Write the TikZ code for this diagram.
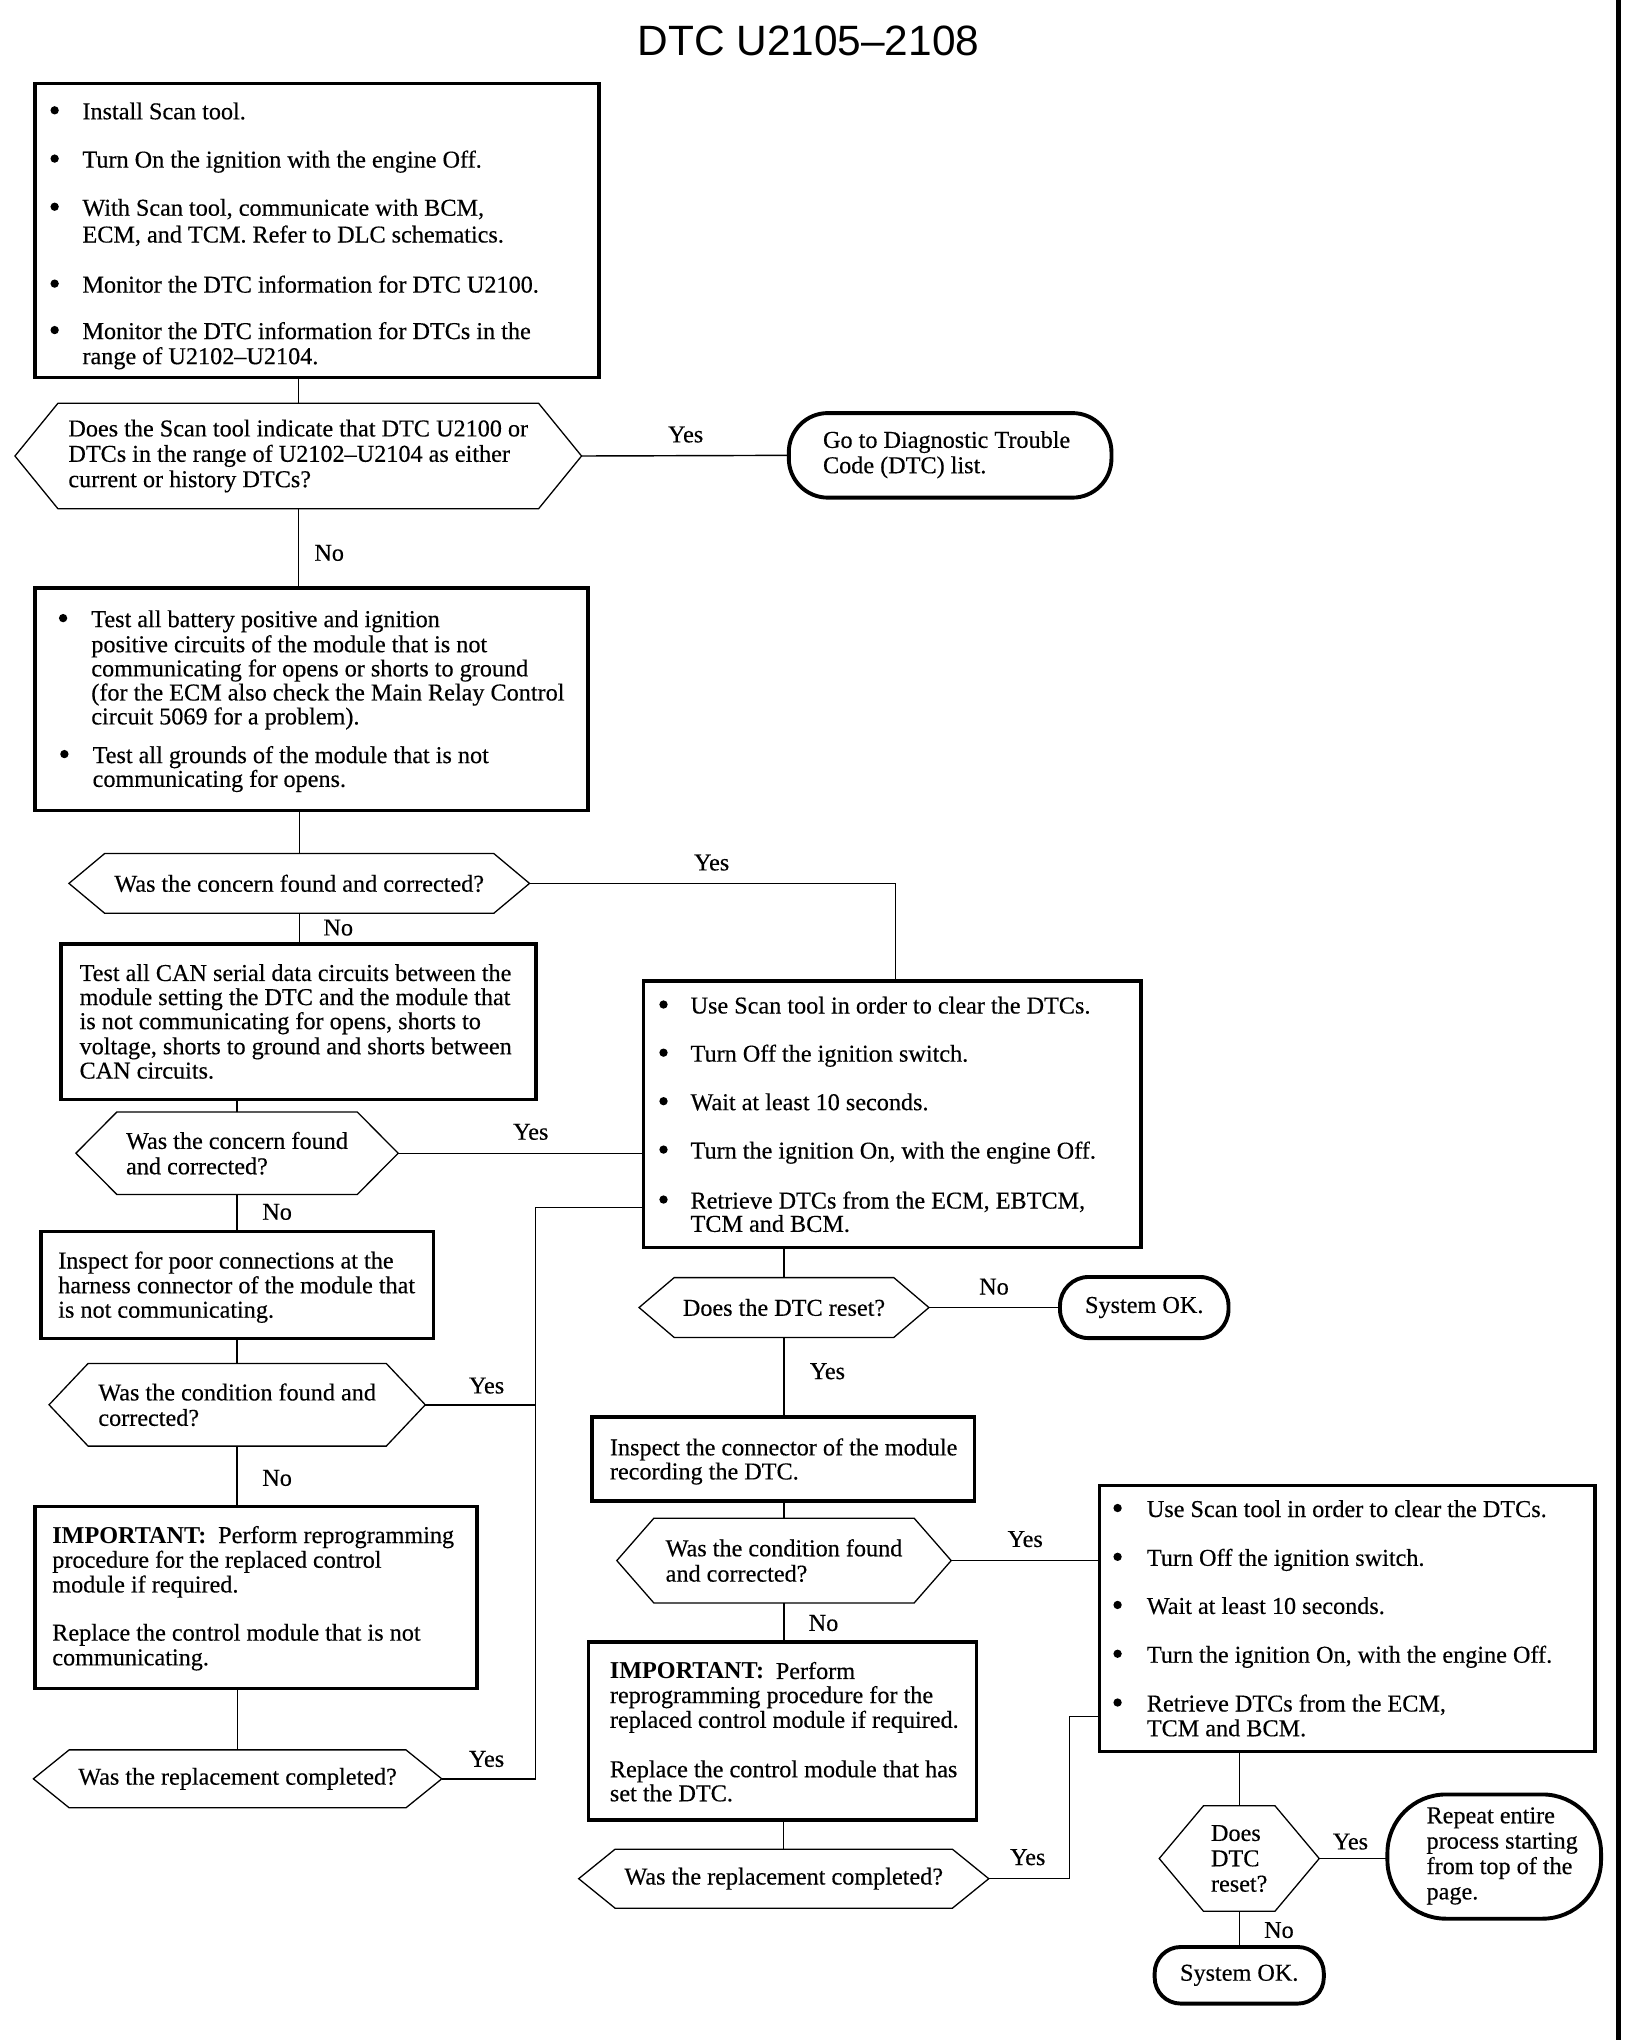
\documentclass[tikz,border=0pt]{standalone}
\usepackage{fontspec}
\setmainfont{Liberation Serif}[UprightFeatures={FakeBold=0.35}]
\newfontfamily\titlefont{Liberation Sans}
\newcommand{\bodyfont}{\fontsize{18.6}{19.5}\selectfont}
\newcommand{\tx}[4]{\node[txt] (#1) at (#2,#3) {#4};}
\newcommand{\bu}[3]{\node[bul] (#1) at (#2,#3-6.9) {};}
\newcommand{\hexat}[7]{%
  \node[hexst, minimum width=#4pt, minimum height=#5pt] (#1) at (#2,#3) {#7};
  \draw[hexline] ([xshift=#6pt]#1.north west) -- ([xshift=-#6pt]#1.north east) -- (#1.east)
     -- ([xshift=-#6pt]#1.south east) -- ([xshift=#6pt]#1.south west) -- (#1.west) -- cycle;}
\begin{document}
\begin{tikzpicture}[x=1pt,y=-1pt,
  txt/.style={anchor=base west, inner sep=0pt, font=\bodyfont},
  bul/.style={circle, fill, inner sep=0pt, minimum size=6.4pt},
  lab/.style={inner sep=0pt, font=\bodyfont},
  boxst/.style={draw, line width=2.6pt, inner sep=0pt, outer sep=0pt},
  hexst/.style={inner sep=0pt, outer sep=0pt, align=left, font=\bodyfont},
  hexline/.style={line width=1pt, line join=miter},
  term/.style={draw, line width=3pt, inner sep=0pt, outer sep=0pt, align=left, font=\bodyfont},
  conn/.style={line width=1.1pt}]
\fill[white] (0,0) rectangle (1254.4,1568);
\useasboundingbox (0,0) rectangle (1254.4,1568);

% title
\node[anchor=base, inner sep=0pt, font=\titlefont\fontsize{32.6}{36}\selectfont] (title) at (621.4,42.3) {DTC U2105\textendash 2108};

% page edge bar
\coordinate (edgetop) at (1244,0);
\coordinate (edgebot) at (1244,1568);
\draw[line width=3.8pt] (edgetop) -- (edgebot);

% ---------- boxes ----------
\node[boxst, minimum width=433.5pt, minimum height=226pt] (b1) at (243.75,177) {};
\node[boxst, minimum width=425pt, minimum height=171pt] (b2) at (239.5,537.5) {};
\node[boxst, minimum width=365pt, minimum height=119.5pt] (b4) at (229.5,785.25) {};
\node[boxst, minimum width=301.8pt, minimum height=82.2pt] (b5) at (182.5,987.5) {};
\node[boxst, minimum width=339.9pt, minimum height=140pt] (b6) at (196.75,1228) {};
\node[boxst, minimum width=382.5pt, minimum height=205pt] (b3) at (685.75,856.5) {};
\node[boxst, minimum width=294pt, minimum height=64.7pt] (b7) at (602,1121.35) {};
\node[boxst, minimum width=298.1pt, minimum height=137pt] (b9) at (601.55,1330.5) {};
\node[boxst, minimum width=381pt, minimum height=204pt] (b8) at (1035.5,1244) {};

% box 1 text
\bu{b1a}{42}{91.7} \tx{b1at}{63.2}{91.7}{Install Scan tool.}
\bu{b1b}{42}{128.8} \tx{b1bt}{63.2}{128.8}{Turn On the ignition with the engine Off.}
\bu{b1c}{42}{165.8} \tx{b1ct}{63.2}{165.8}{With Scan tool, communicate with BCM,}
\tx{b1ct2}{63.2}{186.4}{ECM, and TCM. Refer to DLC schematics.}
\bu{b1d}{42}{224.9} \tx{b1dt}{63.2}{224.9}{Monitor the DTC information for DTC U2100.}
\bu{b1e}{42}{260.6} \tx{b1et}{63.2}{260.6}{Monitor the DTC information for DTCs in the}
\tx{b1et2}{63.2}{279.9}{range of U2102\textendash U2104.}

% box 2 text
\bu{b2a}{48.5}{482} \tx{b2a1}{70}{482}{Test all battery positive and ignition}
\tx{b2a2}{70}{501.3}{positive circuits of the module that is not}
\tx{b2a3}{70}{519.9}{communicating for opens or shorts to ground}
\tx{b2a4}{70}{538.4}{(for the ECM also check the Main Relay Control}
\tx{b2a5}{70}{556.8}{circuit 5069 for a problem).}
\bu{b2b}{49.5}{586.5} \tx{b2b1}{71}{586.5}{Test all grounds of the module that is not}
\tx{b2b2}{71}{604.8}{communicating for opens.}

% box 4 text
\tx{b4a}{61}{754}{Test all CAN serial data circuits between the}
\tx{b4b}{61}{772.5}{module setting the DTC and the module that}
\tx{b4c}{61}{791}{is not communicating for opens, shorts to}
\tx{b4d}{61}{810.3}{voltage, shorts to ground and shorts between}
\tx{b4e}{61}{829}{CAN circuits.}

% box 5 text
\tx{b5a}{44.6}{975}{Inspect for poor connections at the}
\tx{b5b}{44.6}{994}{harness connector of the module that}
\tx{b5c}{44.6}{1012.8}{is not communicating.}

% box 6 text
\tx{b6a}{40}{1186}{\textbf{IMPORTANT:}\hspace{9pt}Perform reprogramming}
\tx{b6b}{40}{1205}{procedure for the replaced control}
\tx{b6c}{40}{1224}{module if required.}
\tx{b6d}{40}{1261}{Replace the control module that is not}
\tx{b6e}{40}{1280}{communicating.}

% box 3 text
\bu{b3a}{510}{779} \tx{b3at}{530.6}{779}{Use Scan tool in order to clear the DTCs.}
\bu{b3b}{510}{816} \tx{b3bt}{530.6}{816}{Turn Off the ignition switch.}
\bu{b3c}{510}{853.3} \tx{b3ct}{530.6}{853.3}{Wait at least 10 seconds.}
\bu{b3d}{510}{890.5} \tx{b3dt}{530.6}{890.5}{Turn the ignition On, with the engine Off.}
\bu{b3e}{510}{928.9} \tx{b3et}{530.6}{928.9}{Retrieve DTCs from the ECM, EBTCM,}
\tx{b3et2}{530.6}{946.8}{TCM and BCM.}

% box 7 text
\tx{b7a}{468.6}{1118.6}{Inspect the connector of the module}
\tx{b7b}{468.6}{1137.1}{recording the DTC.}

% box 9 text
\tx{b9a}{468.6}{1290.5}{\textbf{IMPORTANT:}\hspace{9pt}Perform}
\tx{b9b}{468.6}{1309}{reprogramming procedure for the}
\tx{b9c}{468.6}{1328}{replaced control module if required.}
\tx{b9d}{468.6}{1366}{Replace the control module that has}
\tx{b9e}{468.6}{1384.5}{set the DTC.}

% box 8 text
\bu{b8a}{859}{1166} \tx{b8at}{881.3}{1166}{Use Scan tool in order to clear the DTCs.}
\bu{b8b}{859}{1203.5} \tx{b8bt}{881.3}{1203.5}{Turn Off the ignition switch.}
\bu{b8c}{859}{1240.5} \tx{b8ct}{881.3}{1240.5}{Wait at least 10 seconds.}
\bu{b8d}{859}{1278} \tx{b8dt}{881.3}{1278}{Turn the ignition On, with the engine Off.}
\bu{b8e}{859}{1315.5} \tx{b8et}{881.3}{1315.5}{Retrieve DTCs from the ECM,}
\tx{b8et2}{881.3}{1334.5}{TCM and BCM.}

% ---------- decisions ----------
\hexat{h1}{229.25}{350.5}{435.5}{81}{33}{Does the Scan tool indicate that DTC U2100 or\\DTCs in the range of U2102\textendash U2104 as either\\current or history DTCs?}
\hexat{h2}{230}{679}{354}{46}{27.5}{Was the concern found and corrected?}
\hexat{h3}{182.2}{886.4}{247.7}{63.5}{31.5}{Was the concern found\\and corrected?}
\hexat{h4}{182.3}{1079.75}{289.2}{63.5}{30}{Was the condition found and\\corrected?}
\hexat{h5}{182.6}{1367.25}{313.9}{44.5}{27.5}{Was the replacement completed?}
\hexat{h6}{602.6}{1005}{222.8}{46}{27}{Does the DTC reset?}
\hexat{h7}{602.6}{1199.5}{257}{65.2}{28.5}{Was the condition found\\and corrected?}
\hexat{h8}{602.4}{1444}{315.2}{45.4}{28}{Was the replacement completed?}
\hexat{h9}{952.5}{1428.5}{123}{81}{34}{Does\\DTC\\reset?}

% ---------- terminals ----------
\node[term, minimum width=248pt, minimum height=65pt, rounded corners=30pt] (t1) at (730.3,350) {};
\node[lab, align=left, anchor=west] (t1t) at (632.4,349.5) {Go to Diagnostic Trouble\\Code (DTC) list.};
\node[term, minimum width=129.5pt, minimum height=47pt, rounded corners=22pt] (s1) at (879.5,1005) {System OK.};
\node[term, minimum width=164.2pt, minimum height=95.5pt, rounded corners=45pt] (rep) at (1148.5,1427) {};
\node[lab, align=left, anchor=west] (rept) at (1096.3,1426.5) {Repeat entire\\process starting\\from top of the\\page.};
\node[term, minimum width=130pt, minimum height=43.5pt, rounded corners=20pt] (s2) at (952.5,1518.25) {System OK.};

% ---------- connectors ----------
\coordinate (j1) at (411.6,928);
\coordinate (j2) at (822.2,1319.5);
\draw[conn] (h1.north |- b1.south) -- (h1.north);
\draw[conn] (h1.east) -- (t1.west);
\draw[conn] (h1.south) -- (h1.south |- b2.north);
\draw[conn] (h2.north |- b2.south) -- (h2.north);
\draw[conn] (h2.east) -| ([xshift=2.5pt]b3.north);
\draw[conn] (h2.south) -- (h2.south |- b4.north);
\draw[conn] (h3.north |- b4.south) -- (h3.north);
\draw[conn] (h3.east) -- (h3.east -| b3.west);
\draw[conn] (h3.south) -- (h3.south |- b5.north);
\draw[conn] (h4.north |- b5.south) -- (h4.north);
\draw[conn] (h4.east) -- (h4.east -| j1);
\draw[conn] (h4.south) -- (h4.south |- b6.north);
\draw[conn] (h5.north |- b6.south) -- (h5.north);
\draw[conn] (h5.east) -| (j1) -- (j1 -| b3.west);
\draw[conn] (h6.north |- b3.south) -- (h6.north);
\draw[conn] (h6.east) -- (s1.west);
\draw[conn] (h6.south) -- (h6.south |- b7.north);
\draw[conn] (h7.north |- b7.south) -- (h7.north);
\draw[conn] (h7.east) -- (h7.east -| b8.west);
\draw[conn] (h7.south) -- (h7.south |- b9.north);
\draw[conn] (h8.north |- b9.south) -- (h8.north);
\draw[conn] (h8.east) -| (j2) -- (j2 -| b8.west);
\draw[conn] (h9.north |- b8.south) -- (h9.north);
\draw[conn] (h9.east) -- (h9.east -| rep.west);
\draw[conn] (h9.south) -- (s2.north);

% ---------- labels ----------
\node[lab] (y1) at (527,334) {Yes};
\node[lab] (n1) at (253,425) {No};
\node[lab] (y2) at (547,663) {Yes};
\node[lab] (n2) at (260,713) {No};
\node[lab] (y3) at (408,870) {Yes};
\node[lab] (n3) at (213,931.5) {No};
\node[lab] (y4) at (374,1065) {Yes};
\node[lab] (n4) at (213,1136) {No};
\node[lab] (y5) at (374,1352) {Yes};
\node[lab] (n6) at (764,989) {No};
\node[lab] (y6) at (636,1054) {Yes};
\node[lab] (y7) at (788,1183) {Yes};
\node[lab] (n7) at (633,1247.5) {No};
\node[lab] (y8) at (790,1427.5) {Yes};
\node[lab] (y9) at (1038,1415.5) {Yes};
\node[lab] (n9) at (983,1483.5) {No};
\end{tikzpicture}
\end{document}
